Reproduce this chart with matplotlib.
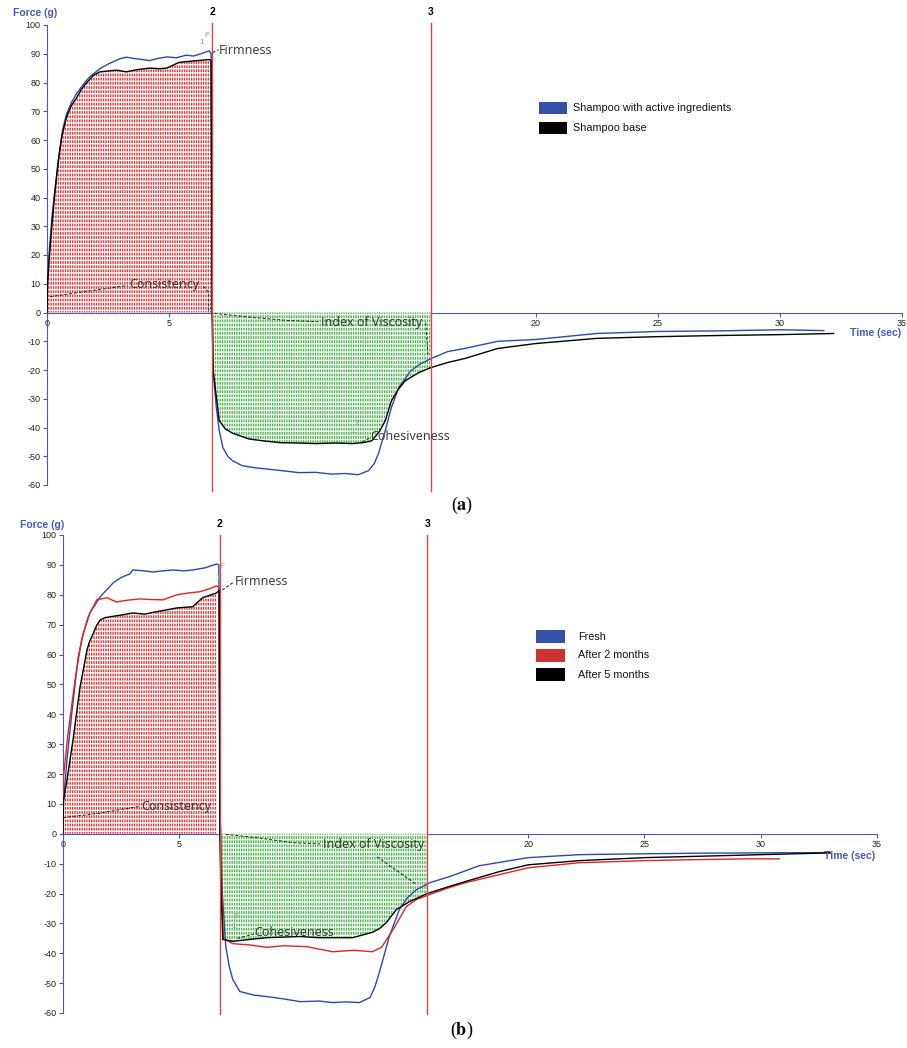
import numpy as np
import matplotlib
matplotlib.use("Agg")
import matplotlib.pyplot as plt
from matplotlib.patches import Rectangle

plt.rcParams['font.family'] = ['Liberation Sans', 'DejaVu Sans']
plt.rcParams['mathtext.fontset'] = 'stix'
plt.rcParams['hatch.linewidth'] = 1.0
plt.rcParams['axes.unicode_minus'] = False

# ---------------- data: panel (a) ----------------
a_blue_t = [0, 0.02, 0.1, 0.2, 0.33, 0.5, 0.65, 0.8, 1.0, 1.2, 1.5, 1.75, 2.2, 2.57, 3.0, 3.25, 3.6,
            3.9, 4.2, 4.5, 4.9, 5.3, 5.7, 6.0, 6.3, 6.64, 6.72, 6.76, 6.80, 6.93, 7.05, 7.2, 7.4, 7.6,
            8.0, 8.5, 8.96, 9.6, 10.3, 11.0, 11.65, 12.2, 12.75, 13.16, 13.4, 13.57, 13.85, 14.1, 14.4,
            14.9, 15.3, 15.73, 16.4, 17.1, 18.46, 20, 22.5, 25, 27.5, 30, 31.8]
a_blue_y = [0, 10, 22, 33, 43, 55, 64, 69, 73, 76, 79.5, 82, 85, 86.7, 88.3, 88.8, 88.3,
            88, 87.6, 88.3, 88.9, 88.6, 89.5, 89.2, 90, 91, 90, 2, -20, -33, -41, -47, -50, -51.6,
            -53.3, -54.0, -54.4, -55.0, -55.7, -55.6, -56.2, -56.0, -56.4, -55, -52.5, -49, -41, -33, -26,
            -20.2, -17.8, -16, -13.6, -12.5, -10, -9.4, -7.3, -6.6, -6.4, -6.0, -6.3]

a_black_t = [0, 0.02, 0.1, 0.2, 0.3, 0.45, 0.6, 0.8, 1.0, 1.2, 1.4, 1.6, 1.9, 2.16, 2.5, 2.85, 3.25,
             3.7, 4.2, 4.6, 4.9, 5.4, 6.0, 6.4, 6.64, 6.72, 6.76, 6.80, 7.05, 7.3, 7.6, 8.27, 9.0, 9.6,
             10.3, 11.0, 11.8, 12.5, 13.0, 13.3, 13.6, 13.85, 14.1, 14.4, 14.67, 15.2, 15.7, 16.4, 17.1,
             18.46, 20, 22.5, 25, 27.5, 30, 32.2]
a_black_y = [0, 10, 20, 30, 40, 52, 61, 68, 72, 74.5, 77.5, 79.7, 82.5, 83.7, 84.0, 84.3, 83.7,
             84.5, 85, 84.8, 85, 87, 87.5, 87.8, 88, 87.5, 0, -20, -37.6, -40.5, -42, -44, -44.8, -45.3,
             -45.4, -45.6, -45.4, -45.6, -45.2, -44.6, -41.5, -37.6, -30.7, -26.5, -23.7, -21.0, -19.2, -17.4, -16,
             -12.5, -10.8, -9, -8.4, -8.0, -7.7, -7.3]

# ---------------- data: panel (b) ----------------
b_blue_t = [0, 0.02, 0.17, 0.38, 0.65, 0.87, 1.16, 1.6, 2.16, 2.5, 2.88, 3.0, 3.5, 3.87, 4.3, 4.73,
            5.2, 5.58, 6.1, 6.6, 6.7, 6.76, 6.85, 7.0, 7.15, 7.3, 7.6, 8.2, 8.75, 9.5, 10.2, 11.0, 11.6,
            12.2, 12.75, 13.2, 13.4, 13.6, 14.03, 14.46, 14.8, 15.2, 15.8, 16.6, 17.9, 20, 22.2, 25,
            27.5, 30, 33]
b_blue_y = [0, 11, 24.7, 40.5, 59, 67, 74, 79.3, 84, 85.8, 87, 88.3, 88.0, 87.6, 88.0, 88.3,
            88.0, 88.3, 89.0, 90.3, 90, 5, -20, -37.8, -44.5, -48.8, -52.8, -54.0, -54.5, -55.3, -56.2,
            -56.0, -56.5, -56.3, -56.5, -54.8, -51.5, -46.5, -34.4, -25.4, -21.5, -18.7, -16.3, -14.4,
            -10.7, -8, -7, -6.7, -6.5, -6.4, -6.3]

b_red_t = [0, 0.02, 0.22, 0.52, 0.8, 1.08, 1.45, 1.88, 2.3, 2.8, 3.3, 3.8, 4.3, 4.9, 5.4, 5.88,
           6.3, 6.6, 6.7, 6.76, 6.83, 6.9, 7.3, 8.0, 8.75, 9.5, 10.5, 11.0, 11.6, 12.5, 13.3, 13.7,
           14.2, 14.76, 15.2, 15.75, 16.5, 17.3, 18.75, 20, 22.2, 25, 27, 29.4, 30.8]
b_red_y = [0, 19, 33.8, 51.5, 65, 72.6, 78.3, 79, 77.6, 78.2, 78.6, 78.4, 78.3, 80, 80.6, 81,
           82, 83, 82.5, 5, -20, -35, -36.8, -37.2, -38, -37.5, -37.8, -38.6, -39.5, -39, -39.5, -38,
           -32, -24.4, -22.0, -20.4, -18.3, -16.4, -13.7, -11.4, -9.7, -9, -8.7, -8.4, -8.4]

b_black_t = [0, 0.02, 0.17, 0.43, 0.73, 0.9, 1.03, 1.15, 1.3, 1.45, 1.6, 1.8, 2.0, 2.5, 3.0, 3.5,
             4.0, 4.5, 4.9, 5.58, 6.0, 6.6, 6.72, 6.74, 6.8, 6.87, 7.3, 8.0, 8.75, 9.5, 10.2, 11.0,
             11.6, 12.45, 13.3, 13.6, 13.9, 14.33, 14.9, 15.67, 16.5, 17.3, 18.75, 20, 22.2, 25, 27.5,
             30, 33]
b_black_y = [0, 11, 18, 31.4, 49, 56, 61.5, 64.5, 67, 69.8, 71.6, 72.3, 72.6, 73.2, 73.9, 73.5,
             74.3, 75, 75.6, 76, 79, 80.6, 81.5, 0, -20, -35.4, -36, -35.4, -34.8, -34.6, -34.4, -34.8,
             -34.8, -34.8, -33, -31.8, -29.8, -25.4, -22.7, -20, -17.9, -16, -12.7, -10.4, -9, -8, -7.5,
             -7, -6.4]

x_ticks = [0, 5, 10, 15, 20, 25, 30, 35]
x_ticklabels = ['0', '5', '10', '', '20', '25', '30', '35']
y_ticks = [-60, -50, -40, -30, -20, -10, 0, 10, 20, 30, 40, 50, 60, 70, 80, 90, 100]
a_marks = [6.76, 15.7]
b_marks = [6.74, 15.67]
mark_labels = ['2', '3']
a_legend = ['Shampoo with active ingredients', 'Shampoo base']
b_legend = ['Fresh', 'After 2 months', 'After 5 months']

BLUE = '#2e48a8'
RED = '#e02424'
BLACK = '#000000'
AXBLUE = '#4a58b8'
VRED = '#d04848'
HRED = '#d83c3c'
HGREEN = '#4cb84c'

W, H = 907, 1048
fig = plt.figure(figsize=(W / 100, H / 100), dpi=100)


def frect(l, t, r, b):
    return [l / W, 1 - b / H, (r - l) / W, (b - t) / H]


axA = fig.add_axes(frect(47, 25, 902, 485))
axB = fig.add_axes(frect(63, 535, 877, 1013))


def style(ax):
    ax.set_xlim(0, 35)
    ax.set_ylim(-60, 100)
    for s in ['top', 'right']:
        ax.spines[s].set_visible(False)
    ax.spines['left'].set_color(AXBLUE)
    ax.spines['left'].set_bounds(-60, 100)
    ax.spines['bottom'].set_position(('data', 0))
    ax.spines['bottom'].set_color(AXBLUE)
    ax.set_xticks(x_ticks)
    ax.set_xticklabels(x_ticklabels)
    ax.set_yticks(y_ticks)
    ax.tick_params(axis='both', colors=AXBLUE, labelcolor='#222222', labelsize=6.5,
                   length=3, width=0.8, pad=1.5)
    ax.patch.set_visible(False)


def hatch_fill(ax, t, y, lo, hi, color):
    t = np.asarray(t, float)
    y = np.asarray(y, float)
    m = (t >= lo) & (t <= hi)
    ax.fill_between(t, y, 0, where=m, facecolor='white', edgecolor=color,
                    hatch='|' * 7, linewidth=0, zorder=2.6)
    ax.fill_between(t, y, 0, where=m, facecolor='none', edgecolor='white',
                    hatch='-' * 4, linewidth=0, zorder=2.65)


def decorate(ax, marks, force_xy, time_xy, num_y, vlims):
    for tm, lab in zip(marks, mark_labels):
        ax.plot([tm, tm], vlims, color=VRED, lw=1.0, clip_on=False, zorder=3)
        ax.text(tm, num_y, lab, ha='center', va='center', fontsize=7.5,
                fontweight='bold', color='black')
    ax.text(force_xy[0], force_xy[1], 'Force (g)', ha='center', va='center', fontsize=7.5,
            fontweight='bold', color=AXBLUE, clip_on=False)
    ax.text(time_xy[0], time_xy[1], 'Time (sec)', ha='center', va='center', fontsize=7.5,
            fontweight='bold', color=AXBLUE, clip_on=False, zorder=5)


ANN = dict(fontsize=9, color='#333333', family=['Open Sans', 'DejaVu Sans'], va='center', ha='left',
           zorder=5)
DASH = dict(color='#222222', lw=0.7, ls=(0, (3, 2)), zorder=4)
GRAY = dict(fontsize=6, color='#999999', ha='center', va='center', zorder=5)

# ---------------- panel (a) ----------------
style(axA)
hatch_fill(axA, a_black_t, a_black_y, 0, a_marks[0] - 0.03, HRED)
hatch_fill(axA, a_black_t, a_black_y, a_marks[0], a_marks[1], HGREEN)
axA.plot(a_blue_t, a_blue_y, color=BLUE, lw=1.0, zorder=3)
axA.plot(a_black_t, a_black_y, color=BLACK, lw=1.0, zorder=3)
decorate(axA, a_marks, (-0.49, 104.2), (33.9, -7.0), 104.5, [-62, 100.7])

axA.text(7.05, 91.3, 'Firmness', **ANN)
axA.plot([6.78, 7.02], [90.4, 91.4], **DASH)
axA.text(6.56, 96.5, 'F', **GRAY)
axA.text(6.35, 94.0, '1', **GRAY)
axA.text(3.38, 9.6, 'Consistency', **ANN)
axA.plot([0.12, 1.5, 3.3], [5.5, 7.2, 9.4], **DASH)
axA.plot([6.4, 6.62, 6.62], [9.2, 7.0, 0.5], **DASH)
axA.text(11.2, -3.6, 'Index of Viscosity', **ANN)
axA.plot([6.85, 8.5, 9.9, 11.1], [-0.3, -1.8, -2.8, -3.2], **DASH)
axA.plot([15.5, 15.6], [-3.5, -15.0], **DASH)
axA.text(13.25, -43.2, 'Cohesiveness', **ANN)
axA.plot([12.9, 13.2], [-45.0, -43.8], **DASH)
axA.text(12.75, -38.5, 'P', **GRAY)
axA.text(12.5, -41.5, '1', **GRAY)

# ---------------- panel (b) ----------------
style(axB)
hatch_fill(axB, b_black_t, b_black_y, 0, b_marks[0] - 0.03, HRED)
hatch_fill(axB, b_black_t, b_black_y, b_marks[0], b_marks[1], HGREEN)
axB.plot(b_blue_t, b_blue_y, color=BLUE, lw=1.0, zorder=3)
axB.plot(b_red_t, b_red_y, color=RED, lw=1.0, zorder=3)
axB.plot(b_black_t, b_black_y, color=BLACK, lw=1.0, zorder=3)
decorate(axB, b_marks, (-0.9, 103.3), (33.82, -7.4), 103.7, [-60.5, 100])

axB.text(7.38, 84.3, 'Firmness', **ANN)
axB.plot([6.85, 7.3], [81.6, 84.0], **DASH)
axB.text(6.85, 89.3, 'F', **GRAY)
axB.text(6.65, 85.5, '1', **GRAY)
axB.text(3.35, 9.0, 'Consistency', **ANN)
axB.plot([0.02, 1.5, 3.3], [5.4, 6.8, 9.2], **DASH)
axB.text(11.16, -3.7, 'Index of Viscosity', **ANN)
axB.plot([7.0, 8.5, 9.9, 11.05], [-0.2, -1.5, -3.0, -3.4], **DASH)
axB.plot([13.5, 15.2], [-7.7, -17.0], **DASH)
axB.text(8.24, -33.0, 'Cohesiveness', **ANN)
axB.plot([7.5, 8.2], [-35.0, -33.6], **DASH)
axB.text(7.45, -28.0, 'F', **GRAY)
axB.text(7.35, -31.0, '1', **GRAY)

# ---------------- legends (figure pixels) ----------------
def legend(entries, colors, x0, y0, pw, ph, step, tx):
    for i, (lab, c) in enumerate(zip(entries, colors)):
        top = y0 + i * step
        fig.patches.append(Rectangle((x0 / W, 1 - (top + ph) / H), pw / W, ph / H,
                                     transform=fig.transFigure, facecolor=c, edgecolor='none'))
        fig.text(tx / W, 1 - (top + ph / 2) / H, lab, fontsize=7.8, color='#111111',
                 ha='left', va='center')


legend(a_legend, ['#3352a8', BLACK], 539, 102, 28, 12, 20, 573)
legend(b_legend, ['#3352a8', '#cc3333', BLACK], 536, 630, 29, 13, 19, 578)

fig.text(462 / W, 1 - 505 / H, r'($\mathbf{a}$)', fontsize=13, ha='center', va='center',
         family=['Liberation Serif', 'DejaVu Serif'])
fig.text(462 / W, 1 - 1030 / H, r'($\mathbf{b}$)', fontsize=13, ha='center', va='center',
         family=['Liberation Serif', 'DejaVu Serif'])

fig.savefig('out.png', dpi=100)
